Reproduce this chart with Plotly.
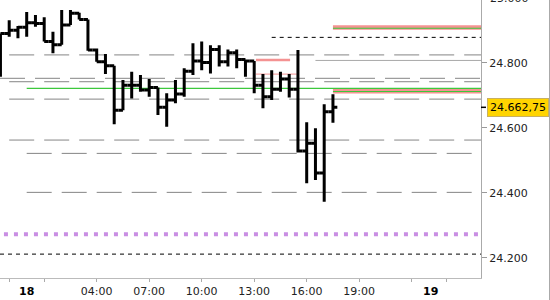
import plotly.graph_objects as go

# ---- 30-minute bars (hours relative to day 18, 00:00) ----
bar_times = [-1.5, -1.0, -0.5, 0.0, 0.5, 1.0, 1.5, 2.0, 2.5, 3.0, 3.5, 4.0, 4.5,
             5.0, 5.5, 6.0, 6.5, 7.0, 7.5, 8.0, 8.5, 9.0, 9.5, 10.0, 10.5, 11.0,
             11.5, 12.0, 12.5, 13.0, 13.5, 14.0, 14.5, 15.0, 15.5, 16.0, 16.5,
             17.0, 17.5]
opens = [24860, 24890, 24900, 24909, 24923, 24921, 24865, 24855, 24916, 24952,
         24933, 24839, 24803, 24791, 24654, 24731, 24731, 24716, 24724, 24663,
         24685, 24704, 24774, 24805, 24801, 24841, 24803, 24831, 24810, 24805,
         24731, 24695, 24718, 24750, 24718, 24528, 24552, 24461, 24649]
highs = [24890, 24931, 24913, 24956, 24947, 24940, 24895, 24962, 24962, 24954,
         24933, 24844, 24827, 24791, 24747, 24772, 24762, 24750, 24724, 24706,
         24747, 24783, 24860, 24865, 24854, 24854, 24841, 24841, 24810, 24805,
         24765, 24777, 24772, 24765, 24839, 24617, 24598, 24672, 24703]
lows = [24757, 24880, 24875, 24880, 24911, 24865, 24829, 24855, 24916, 24933,
        24837, 24803, 24765, 24611, 24654, 24690, 24711, 24695, 24639, 24603,
        24675, 24695, 24762, 24777, 24767, 24788, 24788, 24783, 24757, 24706,
        24660, 24685, 24711, 24693, 24524, 24429, 24439, 24372, 24615]
closes = [24890, 24900, 24909, 24923, 24921, 24865, 24855, 24916, 24952, 24933,
          24839, 24803, 24791, 24654, 24731, 24731, 24716, 24724, 24663, 24685,
          24704, 24774, 24805, 24801, 24841, 24803, 24831, 24810, 24805, 24731,
          24695, 24718, 24750, 24718, 24528, 24552, 24461, 24649, 24662.75]

last_price = 24662.75
last_price_text = "24.662,75"

# ---- axes ----
x_range = [-1.526, 25.96]
y_range = [24137.5, 24993]
x_tick_vals = [-1, 1, 4, 7, 10, 13, 16, 19, 22, 24]
x_tick_text = ["", "", "04:00", "07:00", "10:00", "13:00", "16:00", "19:00", "", ""]
day_labels = ["18", "19"]
day_label_pos = [0.0, 23.1]
y_tick_vals = [24200, 24400, 24600, 24800]
y_tick_text = ["24.200", "24.400", "24.600", "24.800"]
top_cut_label = "25.000"

# ---- horizontal levels ----
gray_levels = [24824, 24752, 24741.5, 24688, 24562, 24521, 24401]
gray_starts = [-1.0, x_range[0], -1.0, -1.0, -1.0, 0.0, 0.0]
green_level, green_start = 24721, 0.0
bands_red = [24908.5, 24712]
bands_green = [24906, 24711.5]
band_start = 17.5
black_dash_levels = [24878, 24211]
black_dash_starts = [14.0, x_range[0]]
red_short_level, red_short_span = 24808, [13.1, 15.05]
pink_short_level, pink_short_span = 24765, [13.1, 15.43]
lightgray_level, lightgray_start = 24807, 16.5
purple_level, purple_start = 24272, -1.3

FONT = "DejaVu Sans"

fig = go.Figure()
fig.add_trace(go.Ohlc(
    x=bar_times, open=opens, high=highs, low=lows, close=closes,
    increasing=dict(line=dict(color="black", width=3)),
    decreasing=dict(line=dict(color="black", width=3)),
    tickwidth=0.5, hoverinfo="skip",
))

shapes = []
def hline(y, x0, x1, color, width, dash="solid", layer="below"):
    shapes.append(dict(type="line", xref="x", yref="y", x0=x0, x1=x1, y0=y, y1=y,
                       line=dict(color=color, width=width, dash=dash), layer=layer))

for lv, st in zip(gray_levels, gray_starts):
    hline(lv, st, x_range[1], "#858585", 1, "25px,10px")
hline(green_level, green_start, x_range[1], "#3CC83C", 1.2)
for r, g in zip(bands_red, bands_green):
    hline(r, band_start, x_range[1], "#F49292", 4.5)
    hline(g, band_start, x_range[1], "#3CC83C", 1.2)
for lv, st in zip(black_dash_levels, black_dash_starts):
    hline(lv, st, x_range[1], "black", 1, "4px,4px")
hline(red_short_level, red_short_span[0], red_short_span[1], "#F49292", 2.5)
hline(pink_short_level, pink_short_span[0], pink_short_span[1], "#F6A8A8", 1.2)
hline(lightgray_level, lightgray_start, x_range[1], "#A8A8A8", 1)
hline(purple_level, purple_start, x_range[1], "#C98EE3", 4, "4px,6px")

# price pointer tick and right frame border
shapes.append(dict(type="line", xref="paper", yref="y", x0=1, x1=1 + 5 / 481,
                   y0=last_price, y1=last_price, line=dict(color="black", width=1.5)))
shapes.append(dict(type="line", xref="paper", yref="paper", x0=549.5 / 481, x1=549.5 / 481,
                   y0=-0.2, y1=1.2, line=dict(color="#AAAAAA", width=1)))

annotations = [
    dict(xref="paper", yref="y", x=1, y=last_price, xanchor="left", yanchor="middle",
         xshift=6, text=last_price_text, showarrow=False,
         font=dict(family=FONT, size=11, color="black"),
         bgcolor="#FFD400", bordercolor="#C8B060", borderwidth=1, borderpad=2),
    dict(xref="paper", yref="paper", x=1, y=1 + 1.7 / 278, xanchor="left", yanchor="middle",
         xshift=7, text=top_cut_label, showarrow=False,
         font=dict(family=FONT, size=11, color="#222")),
]
for lab, pos in zip(day_labels, day_label_pos):
    annotations.append(dict(xref="x", yref="paper", x=pos, y=0, yanchor="middle",
                            xanchor="center", yshift=-13, text="<b>" + lab + "</b>",
                            showarrow=False, font=dict(family=FONT, size=11, color="black")))

fig.update_layout(
    width=550, height=300,
    margin=dict(l=0, r=69, t=0, b=22),
    paper_bgcolor="white", plot_bgcolor="white",
    showlegend=False,
    shapes=shapes, annotations=annotations,
    xaxis=dict(range=x_range, rangeslider=dict(visible=False), showgrid=False,
               zeroline=False, showline=True, linecolor="#BBBBBB", linewidth=1,
               ticks="outside", ticklen=3, tickcolor="#AAAAAA",
               tickvals=x_tick_vals, ticktext=x_tick_text,
               tickfont=dict(family=FONT, size=11, color="#222")),
    yaxis=dict(range=y_range, side="right", showgrid=False, zeroline=False,
               showline=True, linecolor="#AAAAAA", linewidth=1,
               ticks="outside", ticklen=5, tickcolor="#999999",
               tickvals=y_tick_vals, ticktext=y_tick_text,
               tickfont=dict(family=FONT, size=11, color="#222")),
)

fig.write_html("out.html")
